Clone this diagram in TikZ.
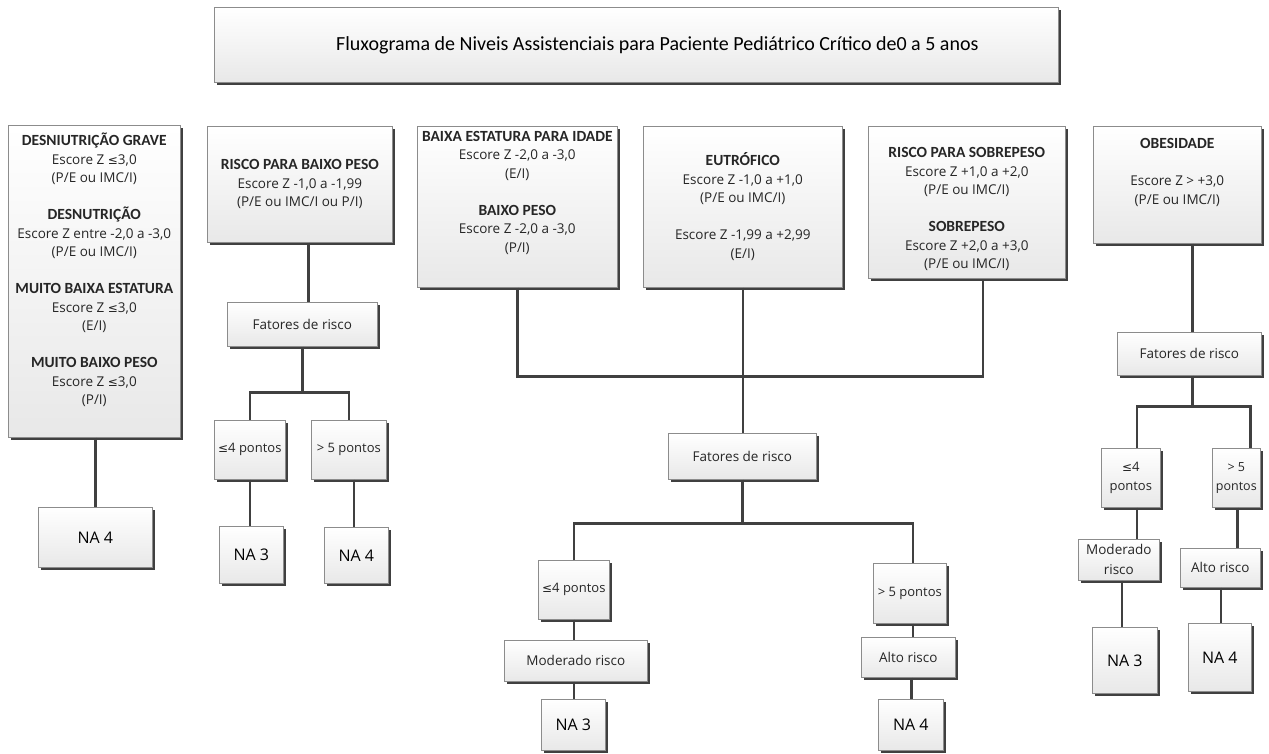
\documentclass[tikz,border=0pt]{standalone}
\usepackage{fontspec}
\setmainfont{Open Sans}
\newfontfamily\headfont{Carlito}
\newfontfamily\symfont{DejaVu Sans}
\usetikzlibrary{shadows}
\newcommand{\leqsym}{{\symfont\fontsize{12}{12}\selectfont ≤}}
\newcommand{\hd}[1]{{\headfont\bfseries\fontsize{15.5}{18.5}\selectfont #1}}
\begin{document}
\begin{tikzpicture}[x=1pt,y=1pt,
  box/.style={draw=black!45, line width=0.6pt, top color=white, bottom color=black!9,
    drop shadow={shadow xshift=2.5pt, shadow yshift=-2.5pt, fill=black!75, opacity=1},
    inner sep=0.5pt, align=center, anchor=north west, text=black!85,
    font=\fontsize{13.5}{18.5}\selectfont},
  conn/.style={draw=black!75, line width=2.6pt},
  na/.style={box, font=\fontsize{16}{20}\selectfont, text=black}
]
\useasboundingbox (0,0) rectangle (1269,-754);

% title
\node[box, minimum width=844pt, minimum height=75pt, font=\headfont\fontsize{20}{24}\selectfont, text=black] (title) at (214,-7)
  {\hspace*{42pt}Fluxograma de Niveis Assistenciais para Paciente Pediátrico Crítico de0 a 5 anos};

% column 1
\node[box, minimum width=172pt, minimum height=312pt] (desn) at (8,-125)
  {\hd{DESNIUTRIÇÃO GRAVE}\\Escore Z \leqsym3,0\\(P/E ou IMC/I)\\[18.5pt]
   \hd{DESNUTRIÇÃO}\\Escore Z entre -2,0 a -3,0\\(P/E ou IMC/I)\\[18.5pt]
   \hd{MUITO BAIXA ESTATURA}\\Escore Z \leqsym3,0\\(E/I)\\[18.5pt]
   \hd{MUITO BAIXO PESO}\\Escore Z \leqsym3,0\\(P/I)\\[6pt]};
\node[na, minimum width=114pt, minimum height=60pt] (na4a) at (38,-507) {NA 4};

% column 2
\node[box, minimum width=185pt, minimum height=116pt] (rbp) at (207,-126)
  {\hd{RISCO PARA BAIXO PESO}\\Escore Z -1,0 a -1,99\\(P/E ou IMC/I ou P/I)};
\node[box, minimum width=150pt, minimum height=44pt] (fr1) at (227,-302) {Fatores de risco};
\node[box, minimum width=71pt, minimum height=59pt, font=\fontsize{13}{18.5}\selectfont] (le1) at (214,-420) {\leqsym 4 pontos};
\node[box, minimum width=75pt, minimum height=59pt, font=\fontsize{13}{18.5}\selectfont] (gt1) at (311,-420) {> 5 pontos};
\node[na, minimum width=64pt, minimum height=57pt] (na3b) at (219,-526) {NA 3};
\node[na, minimum width=64pt, minimum height=56pt] (na4b) at (324,-527) {NA 4};

% middle
\node[box, minimum width=200pt, minimum height=161pt] (bep) at (417,-126)
  {\hd{BAIXA ESTATURA PARA IDADE}\\Escore Z -2,0 a -3,0\\(E/I)\\[18.5pt]
   \hd{BAIXO PESO}\\Escore Z -2,0 a -3,0\\(P/I)\\[12pt]};
\node[box, minimum width=199pt, minimum height=161pt] (eut) at (643,-126)
  {\hd{EUTRÓFICO}\\Escore Z -1,0 a +1,0\\(P/E ou IMC/I)\\[18.5pt]
   Escore Z -1,99 a +2,99\\(E/I)};
\node[box, minimum width=197pt, minimum height=152pt] (rso) at (868,-126)
  {\rule{0pt}{24pt}\hd{RISCO PARA SOBREPESO}\\Escore Z +1,0 a +2,0\\(P/E ou IMC/I)\\[18.5pt]
   \hd{SOBREPESO}\\Escore Z +2,0 a +3,0\\(P/E ou IMC/I)};
\node[box, minimum width=148pt, minimum height=46pt] (fr2) at (668,-433) {Fatores de risco};
\node[box, minimum width=71pt, minimum height=59pt, font=\fontsize{13}{18.5}\selectfont] (le2) at (538,-560) {\leqsym 4 pontos};
\node[box, minimum width=73pt, minimum height=60pt, font=\fontsize{13}{18.5}\selectfont] (gt2) at (873,-563) {> 5 pontos};
\node[box, minimum width=143pt, minimum height=41pt] (mod2) at (504,-640) {Moderado risco};
\node[box, minimum width=94pt, minimum height=40pt] (alt2) at (861,-637) {Alto risco};
\node[na, minimum width=64pt, minimum height=51pt] (na3c) at (541,-699) {NA 3};
\node[na, minimum width=65pt, minimum height=51pt] (na4c) at (878,-699) {NA 4};

% right
\node[box, minimum width=168pt, minimum height=117pt] (obe) at (1093,-126)
  {\hd{OBESIDADE}\\[18.5pt]Escore Z > +3,0\\(P/E ou IMC/I)\\[8pt]};
\node[box, minimum width=144pt, minimum height=43pt] (fr3) at (1117,-332) {Fatores de risco};
\node[box, minimum width=59pt, minimum height=59pt, font=\fontsize{13}{19}\selectfont] (le3) at (1101,-448) {\leqsym 4\\pontos};
\node[box, minimum width=48pt, minimum height=59pt, font=\fontsize{12.5}{19}\selectfont] (gt3) at (1212,-448) {> 5\\pontos};
\node[box, minimum width=81pt, minimum height=41pt, font=\fontsize{13.5}{20}\selectfont] (mod3) at (1078,-539) {Moderado\\risco};
\node[box, minimum width=80pt, minimum height=39pt] (alt3) at (1180,-548) {Alto risco};
\node[na, minimum width=65pt, minimum height=66pt] (na3d) at (1092,-627) {NA 3};
\node[na, minimum width=63pt, minimum height=68pt] (na4d) at (1188,-623) {NA 4};

% connectors column 1
\draw[conn] (desn.south -| na4a.north) -- (na4a.north);
% column 2
\draw[conn] ([xshift=6pt]fr1.north |- rbp.south) -- ([xshift=6pt]fr1.north);
\draw[conn] (fr1.south) -- ++(0,-46) coordinate (j1);
\draw[conn] (le1.north) -- (le1.north |- j1) -- (gt1.north |- j1) -- (gt1.north);
\draw[conn] (le1.south) -- (le1.south |- na3b.north);
\draw[conn] ([xshift=5pt]gt1.south) -- ([xshift=5pt]gt1.south |- na4b.north);
% middle
\draw[conn] (eut.south) -- ++(0,-89) coordinate (j2);
\draw[conn] (bep.south) -- (bep.south |- j2) -- ([xshift=16pt]rso.south |- j2) -- ([xshift=16pt]rso.south);
\draw[conn] (j2) -- (eut.south |- fr2.north);
\draw[conn] (fr2.south) -- ++(0,-44) coordinate (j3);
\draw[conn] (le2.north) -- (le2.north |- j3) -- ([xshift=3pt]gt2.north |- j3) -- ([xshift=3pt]gt2.north);
\draw[conn] (le2.south) -- (le2.south |- mod2.north);
\draw[conn] (le2.south |- mod2.south) -- (le2.south |- na3c.north);
\draw[conn] ([xshift=3pt]gt2.south) -- ([xshift=3pt]gt2.south |- alt2.north);
\draw[conn] ([xshift=3pt]alt2.south) -- ([xshift=3pt]alt2.south |- na4c.north);
% right
\draw[conn] ([xshift=3pt]fr3.north |- obe.south) -- ([xshift=3pt]fr3.north);
\draw[conn] ([xshift=3pt]fr3.south) -- ++(0,-31) coordinate (j4);
\draw[conn] ([xshift=6pt]le3.north) -- ([xshift=6pt]le3.north |- j4) -- ([xshift=14pt]gt3.north |- j4) -- ([xshift=14pt]gt3.north);
\draw[conn] ([xshift=6pt]le3.south) -- ([xshift=6pt]le3.south |- mod3.north);
\draw[conn] ([xshift=-3pt]na3d.north |- mod3.south) -- ([xshift=-3pt]na3d.north);
\draw[conn] ([xshift=1pt]gt3.south) -- ([xshift=1pt]gt3.south |- alt3.north);
\draw[conn] ([xshift=1pt]na4d.north |- alt3.south) -- ([xshift=1pt]na4d.north);
\end{tikzpicture}
\end{document}
